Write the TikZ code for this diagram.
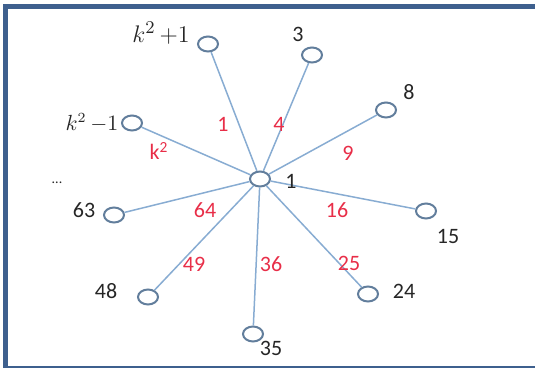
\documentclass[tikz,border=0pt]{standalone}
\usepackage{fontspec}
\setmainfont{Carlito}
\usetikzlibrary{shapes.geometric}
\definecolor{spoke}{RGB}{136,172,210}
\definecolor{ring}{RGB}{98,126,156}
\definecolor{frameblue}{RGB}{62,96,142}
\definecolor{wred}{RGB}{232,46,72}
\definecolor{ink}{RGB}{38,38,38}
\begin{document}
\begin{tikzpicture}[x=0.5pt,y=-0.5pt,
  vtx/.style={ellipse,draw=ring,line width=1pt,minimum width=10pt,minimum height=7.5pt,inner sep=0pt},
  edge/.style={spoke,line width=0.75pt},
  num/.style={text=ink,font=\fontsize{11}{13}\selectfont,inner sep=0pt},
  wt/.style={text=wred,font=\fontsize{11}{13}\selectfont,inner sep=0pt}]
  \useasboundingbox (0,0) rectangle (535,368);
  % frame
  \fill[frameblue] (3,4) rectangle (535,9);
  \fill[frameblue] (3,4) rectangle (8,368);
  \fill[frameblue] (3,366) rectangle (535,368);
  % vertices
  \node[vtx] (c) at (260,179) {};
  \node[vtx] (kp) at (208,44) {};
  \node[vtx] (v3) at (312,55) {};
  \node[vtx] (v8) at (386,110) {};
  \node[vtx] (km) at (132,123) {};
  \node[vtx] (v15) at (426,211) {};
  \node[vtx] (v24) at (368,294) {};
  \node[vtx] (v35) at (253,334) {};
  \node[vtx] (v48) at (148,297) {};
  \node[vtx] (v63) at (114,215) {};
  % spokes
  \foreach \v in {kp,v3,v8,km,v15,v24,v35,v48,v63}
    \draw[edge] (c) -- (\v);
  % vertex labels
  \node[text=ink,font=\fontsize{13}{15}\selectfont] (lkp) at (161,33) {$k^{2}\,{+}1$};
  \node[text=ink,font=\fontsize{10.5}{12}\selectfont] (lkm) at (92,123) {$k^{2}\,{-}1$};
  \node[num] (lc) at (291,181) {1};
  \node[num] (l3) at (298,34) {3};
  \node[num] (l8) at (409,92) {8};
  \node[num] (l15) at (448,236) {15};
  \node[num] (l24) at (404,291) {24};
  \node[num] (l35) at (271,348) {35};
  \node[num] (l48) at (106,291) {48};
  \node[num] (l63) at (84,210) {63};
  \node[text=ink,font=\scriptsize] (dots) at (57,183) {...};
  % weights
  \node[wt] (w1) at (223,124) {1};
  \node[wt] (w4) at (279,124) {4};
  \node[wt] (w9) at (348,153) {9};
  \node[wt] (wk) at (159,151) {k\textsuperscript{2}};
  \node[wt] (w16) at (337,210) {16};
  \node[wt] (w25) at (349,263) {25};
  \node[wt] (w36) at (271,264) {36};
  \node[wt] (w49) at (194,264) {49};
  \node[wt] (w64) at (205,210) {64};
\end{tikzpicture}
\end{document}
